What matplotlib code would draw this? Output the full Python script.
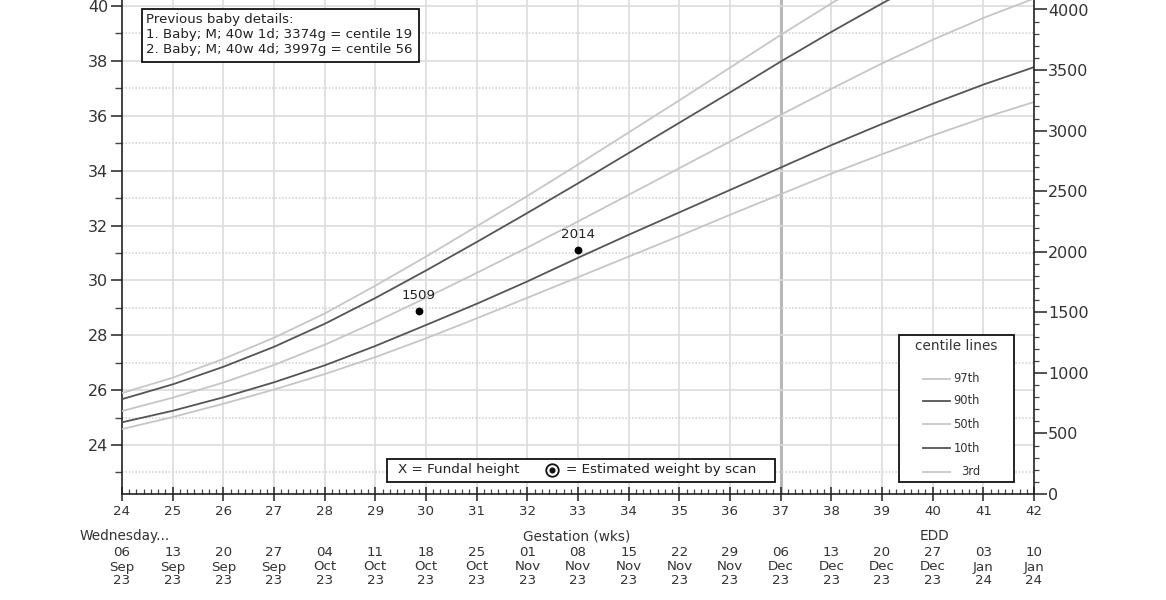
import matplotlib
matplotlib.use("Agg")
import matplotlib.pyplot as plt
import matplotlib.transforms as mtransforms
from matplotlib.patches import Rectangle
from matplotlib.lines import Line2D
import numpy as np

plt.rcParams['font.family'] = ['DejaVu Sans']

# ---------------- data ----------------
weeks = list(range(24, 43))
c97 = [833, 960, 1115, 1290, 1490, 1720, 1960, 2210, 2460, 2720, 2985, 3250, 3520, 3790, 4050, 4300, 4540, 4760, 4950]
c90 = [783, 905, 1050, 1215, 1405, 1618, 1845, 2080, 2320, 2565, 2815, 3065, 3315, 3570, 3815, 4050, 4275, 4480, 4660]
c50 = [685, 795, 920, 1065, 1232, 1420, 1620, 1825, 2035, 2250, 2470, 2690, 2910, 3130, 3345, 3555, 3750, 3930, 4090]
c10 = [592, 687, 798, 922, 1062, 1222, 1395, 1570, 1755, 1950, 2140, 2325, 2510, 2695, 2880, 3055, 3222, 3380, 3524]
c3 = [536, 635, 745, 862, 990, 1130, 1285, 1450, 1620, 1790, 1960, 2130, 2305, 2475, 2645, 2805, 2960, 3105, 3236]
centile_names = ["97th", "90th", "50th", "10th", "3rd"]

scan_weeks = [29 + 6 / 7, 33.0]
scan_weights = [1509, 2014]

day_labels = ["06", "13", "20", "27", "04", "11", "18", "25", "01", "08", "15", "22", "29", "06", "13", "20", "27", "03", "10"]
month_labels = ["Sep", "Sep", "Sep", "Sep", "Oct", "Oct", "Oct", "Oct", "Nov", "Nov", "Nov", "Nov", "Nov", "Dec", "Dec", "Dec", "Dec", "Jan", "Jan"]
year_labels = ["23"] * 17 + ["24", "24"]

prev_baby_lines = ["Previous baby details:",
                   "1. Baby; M; 40w 1d; 3374g = centile 19",
                   "2. Baby; M; 40w 4d; 3997g = centile 56"]

# ---------------- figure ----------------
W, H = 1166, 600
fig = plt.figure(figsize=(W / 100, H / 100), dpi=100)
fig.patch.set_facecolor("white")


def fx(px):
    return px / W


def fy(py):
    return 1 - py / H


ax = fig.add_axes([fx(122), fy(494), fx(1034) - fx(122), fy(0) - fy(494)])
ax.set_xlim(24, 42)
ax.set_ylim(24 - 49 / 27.4375, 40 + 6 / 27.4375)
ax2 = ax.twinx()
ax2.set_ylim(0, 494 / 0.121125)

light = "#c6c6c6"
dark = "#555555"
gridc = "#dcdcdc"
txtc = "#333333"

# grid
for w in weeks[1:-1]:
    if w == 37:
        ax.axvline(w, color="#b8b8b8", lw=2.2, zorder=0)
    else:
        ax.axvline(w, color=gridc, lw=1.2, zorder=0)
for v in range(24, 41, 2):
    ax.axhline(v, color=gridc, lw=1.2, zorder=0)
for v in range(23, 40, 2):
    ax.axhline(v, color="#d6d6d6", lw=1.2, ls=(0, (1, 1)), zorder=0)

# centile curves
styles = [light, dark, light, dark, light]
for vals, col in zip([c97, c90, c50, c10, c3], styles):
    ax2.plot(weeks, vals, color=col, lw=1.3, zorder=2, solid_capstyle="butt",
             solid_joinstyle="round")

# scan points
ax2.plot(scan_weeks, scan_weights, "o", color="black", ms=4.6, zorder=3)
for xw, wt in zip(scan_weeks, scan_weights):
    ax2.annotate(str(wt), (xw, wt), xytext=(0, 11), textcoords="offset points",
                 ha="center", va="center", fontsize=9.6, color="#222222")

# spines
for a in (ax, ax2):
    a.spines["top"].set_visible(False)
    for s in a.spines.values():
        s.set_color("#222222")
        s.set_linewidth(1.2)
ax.spines["right"].set_visible(False)
ax2.spines["left"].set_visible(False)
ax2.spines["bottom"].set_visible(False)

# ticks
ax.set_xticks(weeks)
ax.set_xticks(np.arange(24, 42 + 1e-9, 1 / 7), minor=True)
ax.tick_params(axis="x", which="major", direction="inout", length=10, width=1.1,
               color="#222222", labelsize=9.6, labelcolor=txtc, pad=3)
ax.tick_params(axis="x", which="minor", direction="in", length=3.5, width=0.9, color="#444444")

ax.set_yticks(range(24, 41, 2))
ax.set_yticks(range(23, 40, 2), minor=True)
ax.tick_params(axis="y", which="major", direction="out", length=8, width=1.1,
               color="#222222", labelsize=11.5, labelcolor=txtc, pad=2)
ax.tick_params(axis="y", which="minor", direction="out", length=5, width=1.0, color="#444444")

ax2.set_yticks(range(0, 4001, 500))
ax2.set_yticks(range(0, 4001, 100), minor=True)
ax2.tick_params(axis="y", which="major", direction="out", length=9, width=1.1,
                color="#222222", labelsize=11.5, labelcolor=txtc, pad=1)
ax2.tick_params(axis="y", which="minor", direction="out", length=3.5, width=0.9, color="#444444")

# bottom texts
blend = mtransforms.blended_transform_factory(ax.transData, fig.transFigure)
for w, d, m, yv in zip(weeks, day_labels, month_labels, year_labels):
    ax.text(w, fy(553), d, transform=blend, ha="center", va="center", fontsize=9.6, color=txtc)
    ax.text(w, fy(567), m, transform=blend, ha="center", va="center", fontsize=9.6, color=txtc)
    ax.text(w, fy(580), yv, transform=blend, ha="center", va="center", fontsize=9.6, color=txtc)

fig.text(fx(80), fy(536), "Wednesday...", ha="left", va="center", fontsize=9.8, color=txtc)
fig.text(fx(577), fy(536), "Gestation (wks)", ha="center", va="center", fontsize=9.8, color=txtc)
fig.text(fx(934), fy(536), "EDD", ha="center", va="center", fontsize=9.8, color=txtc)


def fig_rect(x0, y0, x1, y1):
    r = Rectangle((fx(x0), fy(y1)), fx(x1) - fx(x0), fy(y0) - fy(y1), transform=fig.transFigure,
                  facecolor="white", edgecolor="#111111", lw=1.3, zorder=5)
    fig.add_artist(r)


# previous baby box
fig_rect(142, 9, 419, 62)
for i, line in enumerate(prev_baby_lines):
    fig.text(fx(146), fy(20 + 14.7 * i), line, ha="left", va="center", fontsize=9.6,
             color="#222222", zorder=6)

# key box
fig_rect(387, 459, 775, 482)
fig.text(fx(398), fy(470), "X = Fundal height", ha="left", va="center", fontsize=9.7,
         color="#222222", zorder=6)
fig.add_artist(Line2D([fx(552)], [fy(470)], marker="o", ms=9, mfc="white", mec="#111111",
                      mew=1.3, transform=fig.transFigure, zorder=6))
fig.add_artist(Line2D([fx(552)], [fy(470)], marker="o", ms=3.4, mfc="#111111", mec="#111111",
                      transform=fig.transFigure, zorder=7))
fig.text(fx(566), fy(470), "= Estimated weight by scan", ha="left", va="center", fontsize=9.7,
         color="#222222", zorder=6)

# centile legend box
fig_rect(899, 335, 1014, 482)
fig.text(fx(956), fy(346), "centile lines", ha="center", va="center", fontsize=9.8,
         color="#333333", zorder=6)
row_y = [379, 401, 424, 448, 471.5]
for name, col, yy in zip(centile_names, styles, row_y):
    fig.add_artist(Line2D([fx(922.5), fx(949.5)], [fy(yy), fy(yy)], color=col, lw=1.3,
                          transform=fig.transFigure, zorder=6))
    fig.text(fx(980), fy(yy), name, ha="right", va="center", fontsize=8.3,
             color="#333333", zorder=6)

fig.savefig("out.png", dpi=100, facecolor="white")
